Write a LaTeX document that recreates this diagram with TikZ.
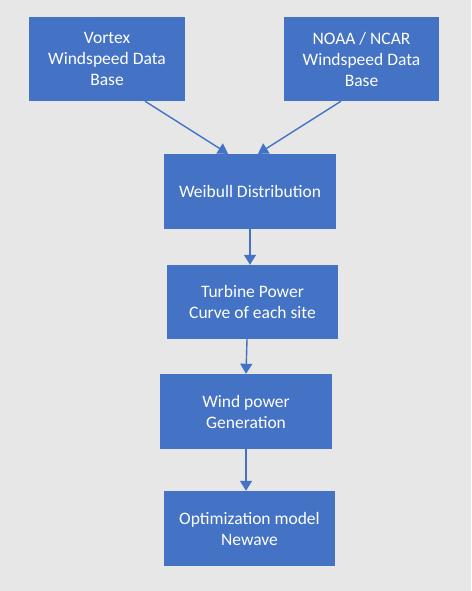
\documentclass[tikz,border=0pt]{standalone}
\usepackage{fontspec}
\setmainfont{Carlito}
\usepackage{xcolor}
\usepackage{tikz}
\usetikzlibrary{arrows.meta}
\definecolor{flowblue}{HTML}{4472C4}
\definecolor{flowbg}{HTML}{E7E7E7}
\tikzset{
  flow box/.style={
    rectangle,
    fill=flowblue,
    draw=none,
    text=white,
    align=center,
    font=\fontsize{17.5}{21}\selectfont,
    inner sep=2pt,
  },
  flow arrow/.style={-{Triangle[length=10pt,width=12pt]}, line width=1.4pt, draw=flowblue},
}

\begin{document}
\begin{tikzpicture}[x=1pt,y=-1pt]
  % background
  \fill[flowbg] (0,0) rectangle (471,591);
  \useasboundingbox (0,0) rectangle (471,591);

  \node[flow box,minimum width=156pt,minimum height=84pt] (vortex) at (107,59)
    {Vortex\\Windspeed Data\\Base};
  \node[flow box,minimum width=155pt,minimum height=84pt] (noaa) at (361.5,59)
    {NOAA / NCAR\\Windspeed Data\\Base};

  \node[flow box,minimum width=172pt,minimum height=75pt] (weibull) at (250,191.5)
    {Weibull Distribution};
  \node[flow box,minimum width=171pt,minimum height=74pt] (turbine) at (252.5,302)
    {Turbine Power\\Curve of each site};
  \node[flow box,minimum width=172pt,minimum height=75pt] (windpow) at (246,411.5)
    {Wind power\\Generation};
  \node[flow box,minimum width=171pt,minimum height=75pt] (optim) at (249.5,528.5)
    {Optimization model\\Newave};

  \draw[flow arrow] ([xshift=38pt]vortex.south) -- ([xshift=-22pt]weibull.north);
  \draw[flow arrow] ([xshift=-20.5pt]noaa.south) -- ([xshift=8pt]weibull.north);
  \draw[flow arrow] (weibull.south) -- (weibull.south |- turbine.north);
  \draw[flow arrow] ([xshift=-5.5pt]turbine.south) -- (windpow.south |- windpow.north);
  \draw[flow arrow] (windpow.south) -- (windpow.south |- optim.north);
\end{tikzpicture}
\end{document}
